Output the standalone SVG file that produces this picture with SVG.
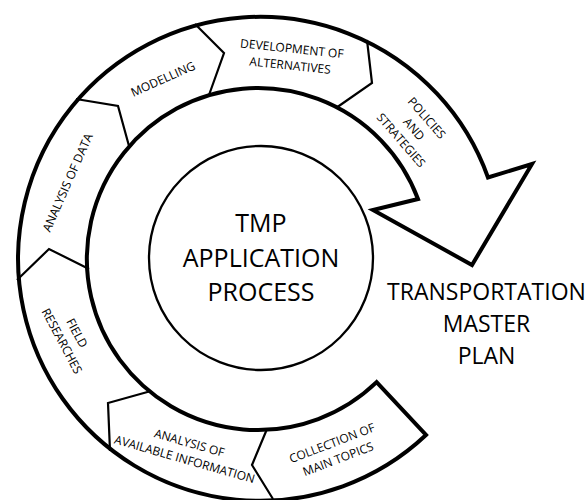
<svg xmlns="http://www.w3.org/2000/svg" width="587" height="500" viewBox="0 0 587 500">
  <style>
    .band { fill: #ffffff; stroke: #000000; stroke-width: 4; stroke-linejoin: miter; stroke-miterlimit: 10; }
    .div { fill: none; stroke: #000000; stroke-width: 2.2; stroke-linejoin: miter; }
    .hub { fill: #ffffff; stroke: #000000; stroke-width: 2.3; }
    .lbl { font-family: "Open Sans", "DejaVu Sans", sans-serif; font-size: 12px; fill: #000000; text-anchor: middle; }
    .big { font-family: "Open Sans", "DejaVu Sans", sans-serif; font-size: 25px; fill: #000000; text-anchor: middle; }
    .out { font-family: "Open Sans", "DejaVu Sans", sans-serif; font-size: 23px; fill: #000000; text-anchor: middle; }
  </style>
  <rect x="0" y="0" width="587" height="500" fill="#ffffff"/>

  <g id="cycle-arrow">
    <path class="band" d="M 376.6,382.1 L 426,435 A 242 242 0 1 1 488,177.5 L 532,164 L 472,265 L 373,210 L 418,199 A 171 171 0 1 0 376.6,382.1 Z"/>
  </g>

  <g id="connectors">
    <polyline class="div" points="267,429 252,465 273,499"/>
    <polyline class="div" points="151,391 108,403 110,451"/>
    <polyline class="div" points="89,269 49,249 17,280"/>
    <polyline class="div" points="129,146 118,106 76,99"/>
    <polyline class="div" points="209,95 224,53 195,24"/>
    <polyline class="div" points="336,108 372,83 367,40"/>
  </g>

  <g id="hub">
    <circle class="hub" cx="261" cy="258" r="112"/>
    <text class="big" x="261" y="232">TMP</text>
    <text class="big" x="261" y="267">APPLICATION</text>
    <text class="big" x="261" y="301">PROCESS</text>
  </g>

  <g id="collection-of-main-topics" transform="translate(335,451) rotate(-21)">
    <text class="lbl" x="0" y="-4.2">COLLECTION OF</text>
    <text class="lbl" x="0" y="12.8">MAIN TOPICS</text>
  </g>

  <g id="analysis-of-available-information" transform="translate(187,451) rotate(16)">
    <text class="lbl" x="0" y="-4.2">ANALYSIS OF</text>
    <text class="lbl" x="0" y="12.8">AVAILABLE INFORMATION</text>
  </g>

  <g id="field-researches" transform="translate(69.5,337) rotate(62)">
    <text class="lbl" x="0" y="-4.2">FIELD</text>
    <text class="lbl" x="0" y="12.8">RESEARCHES</text>
  </g>

  <g id="analysis-of-data" transform="translate(67.5,182.5) rotate(-66)">
    <text class="lbl" x="0" y="4.3">ANALYSIS OF DATA</text>
  </g>

  <g id="modelling" transform="translate(163,79) rotate(-24)">
    <text class="lbl" x="0" y="4.3">MODELLING</text>
  </g>

  <g id="development-of-alternatives" transform="translate(291,57) rotate(6)">
    <text class="lbl" x="0" y="-4.2">DEVELOPMENT OF</text>
    <text class="lbl" x="0" y="12.8">ALTERNATIVES</text>
  </g>

  <g id="policies-and-strategies" transform="translate(414,129) rotate(49)">
    <text class="lbl" x="0" y="-12.7">POLICIES</text>
    <text class="lbl" x="0" y="4.3">AND</text>
    <text class="lbl" x="0" y="21.3">STRATEGIES</text>
  </g>

  <g id="transportation-master-plan">
    <text class="out" x="486.5" y="300">TRANSPORTATION</text>
    <text class="out" x="486.5" y="332">MASTER</text>
    <text class="out" x="486.5" y="364">PLAN</text>
  </g>
</svg>
